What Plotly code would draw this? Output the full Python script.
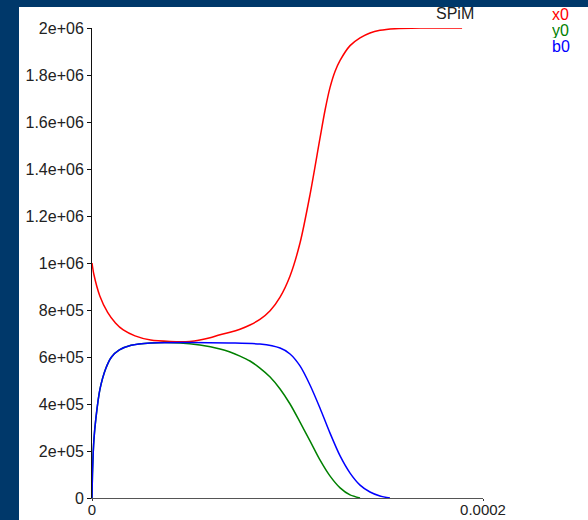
import plotly.graph_objects as go

# time axis (s) and species counts
x_red = [0, 1e-6, 4e-6, 8e-6, 1.2e-5, 1.6e-5, 2.2e-5, 3.0e-5, 4.0e-5, 5.0e-5, 5.52e-5,
         6.04e-5, 6.55e-5, 7.06e-5, 7.57e-5, 8.08e-5, 8.59e-5, 9.11e-5, 9.62e-5, 1.013e-4,
         1.064e-4, 1.115e-4, 1.166e-4, 1.192e-4, 1.217e-4, 1.243e-4, 1.269e-4, 1.32e-4,
         1.371e-4, 1.422e-4, 1.473e-4, 1.55e-4, 1.678e-4, 1.893e-4]
y_red = [1.0e6, 9.5e5, 8.6e5, 7.9e5, 7.45e5, 7.15e5, 6.9e5, 6.72e5, 6.66e5, 6.66e5, 6.72e5,
         6.82e5, 6.95e5, 7.05e5, 7.18e5, 7.36e5, 7.6e5, 7.97e5, 8.55e5, 9.45e5,
         1.085e6, 1.29e6, 1.53e6, 1.65e6, 1.745e6, 1.815e6, 1.862e6, 1.925e6,
         1.958e6, 1.979e6, 1.99e6, 1.997e6, 2.0e6, 2.0e6]

x_green = [0, 3e-7, 1e-6, 2e-6, 4e-6, 7e-6, 1.0e-5, 1.4e-5, 2.0e-5, 3.0e-5, 4.5e-5, 5.52e-5,
           6.55e-5, 7.06e-5, 7.57e-5, 8.08e-5, 8.59e-5, 9.11e-5, 9.62e-5, 1.013e-4, 1.064e-4,
           1.115e-4, 1.166e-4, 1.217e-4, 1.269e-4, 1.32e-4, 1.371e-4]
y_green = [0, 1.2e5, 2.5e5, 3.4e5, 4.6e5, 5.5e5, 6.0e5, 6.3e5, 6.5e5, 6.6e5, 6.6e5, 6.51e5,
           6.34e5, 6.21e5, 6.04e5, 5.83e5, 5.53e5, 5.15e5, 4.64e5, 4.0e5, 3.23e5,
           2.43e5, 1.62e5, 9.4e4, 4.3e4, 1.3e4, 0]

x_blue = [0, 3e-7, 1e-6, 2e-6, 4e-6, 7e-6, 1.0e-5, 1.4e-5, 2.0e-5, 3.0e-5, 5.0e-5, 7.0e-5,
          8.59e-5, 9.62e-5, 1.013e-4, 1.064e-4, 1.115e-4, 1.166e-4, 1.217e-4, 1.269e-4,
          1.32e-4, 1.371e-4, 1.422e-4, 1.473e-4, 1.524e-4]
y_blue = [0, 1.2e5, 2.5e5, 3.4e5, 4.6e5, 5.5e5, 6.0e5, 6.3e5, 6.5e5, 6.6e5, 6.62e5, 6.6e5,
          6.55e5, 6.38e5, 6.13e5, 5.62e5, 4.81e5, 3.83e5, 2.77e5, 1.79e5,
          1.06e5, 5.5e4, 2.55e4, 8.5e3, 0]

names = ["x0", "y0", "b0"]
colors = ["#ff0000", "#008000", "#0000ff"]

y_ticks = [0, 2e5, 4e5, 6e5, 8e5, 1e6, 1.2e6, 1.4e6, 1.6e6, 1.8e6, 2e6]
y_labels = ["0", "2e+05", "4e+05", "6e+05", "8e+05", "1e+06",
            "1.2e+06", "1.4e+06", "1.6e+06", "1.8e+06", "2e+06"]
x_ticks = [0, 0.0002]
x_labels = ["0", "0.0002"]

W, H = 588, 520
L, R, T, B = 92, 105, 28, 22
pw, ph = W - L - R, H - T - B
navy = "#00386a"
font = "Liberation Sans, Arial, sans-serif"

fig = go.Figure()
series = [(x_red, y_red), (x_green, y_green), (x_blue, y_blue)]
for (xs, ys), nm, c in zip(series, names, colors):
    fig.add_trace(go.Scatter(x=xs, y=ys, mode="lines", name=nm,
                             line=dict(color=c, width=1.5, shape="spline", smoothing=0.8)))

def px(p):  # pixel -> paper x
    return (p - L) / pw

def py(p):  # pixel -> paper y
    return (H - B - p) / ph

# navy frame on left and top
fig.add_shape(type="rect", xref="paper", yref="paper", x0=px(0), x1=px(19), y0=py(H), y1=py(0),
              fillcolor=navy, line_width=0, layer="below")
fig.add_shape(type="rect", xref="paper", yref="paper", x0=px(0), x1=px(W), y0=py(7), y1=py(0),
              fillcolor=navy, line_width=0, layer="below")

fig.add_annotation(text="SPiM", xref="paper", yref="paper", x=px(455), y=py(24),
                   xanchor="center", yanchor="bottom", showarrow=False,
                   font=dict(size=16, color="#222", family=font))
for i, (nm, c) in enumerate(zip(names, colors)):
    fig.add_annotation(text=nm, xref="paper", yref="paper", x=px(550), y=py(24 + 16 * i),
                       xanchor="left", yanchor="bottom", height=15, showarrow=False,
                       font=dict(size=16, color=c, family=font))

fig.update_layout(
    width=W, height=H, margin=dict(l=L, r=R, t=T, b=B, autoexpand=False),
    paper_bgcolor="white", plot_bgcolor="white", showlegend=False,
    font=dict(family=font, size=16, color="#222"),
)
fig.update_xaxes(range=[0, 0.0002], tickvals=x_ticks, ticktext=x_labels, showgrid=False,
                 zeroline=False, showline=True, linecolor="#555", linewidth=1, automargin=False,
                 ticks="outside", ticklen=2, tickcolor="#333", tickfont=dict(size=15),
                 ticklabelstandoff=-4)
fig.update_yaxes(range=[0, 2e6], tickvals=y_ticks, ticktext=y_labels, showgrid=False,
                 zeroline=False, showline=True, linecolor="#111", linewidth=1, automargin=False,
                 ticks="outside", ticklen=4, tickcolor="#111")

fig.write_html("out.html", config={"displayModeBar": False},
               post_script="document.body.style.margin='0';")
